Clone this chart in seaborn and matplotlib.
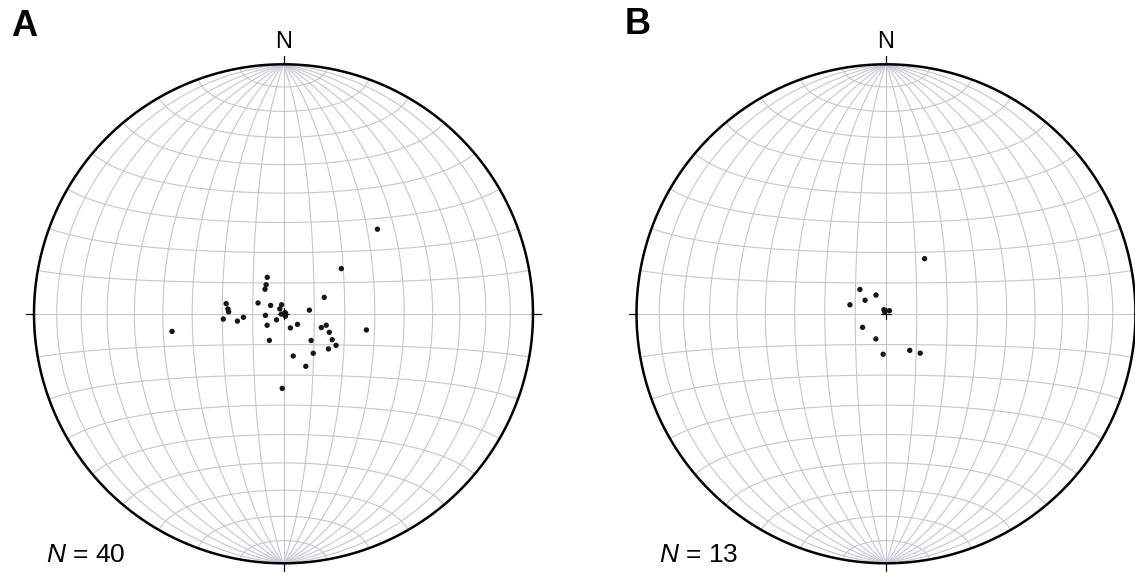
import numpy as np
import pandas as pd
import matplotlib
matplotlib.use("Agg")
import matplotlib.pyplot as plt
import seaborn as sns

# ---- data: lineation trend / plunge (degrees) ----
trend_a = [48, 52, 336, 329, 323, 68, 280, 293, 303, 348,
           323, 82, 275, 272, 265, 265, 261, 265, 261, 80,
           141, 229, 235, 127, 154, 110, 105, 112, 118, 121,
           128, 134, 143, 208, 167, 157, 181, 261, 101, 51]
plunge_a = [48, 66, 77, 79, 80, 75.7, 71, 81, 85, 87,
            88, 81.5, 71.8, 72.1, 76.9, 70.3, 74.8, 84.1, 89.3, 89.3,
            89, 87, 83.5, 84.3, 84.9, 76.9, 75.6, 73.9, 72, 70,
            71.4, 77.5, 73.9, 80.2, 75.9, 71.4, 65.6, 52.7, 62.3, 89.4]
trend_b = [35, 313, 332, 303, 284, 333, 48, 329, 240, 202, 184, 147, 139]
plunge_b = [68, 78.4, 83.1, 81.9, 77.9, 88.5, 88.5, 89.1, 81.2, 81.2, 76.8, 75.8, 73]
panel_labels = ["A", "B"]
n_labels = ["40", "13"]

sns.set_style("white")
plt.rcParams["font.family"] = ["Liberation Sans", "DejaVu Sans"]
plt.rcParams["text.color"] = "black"
plt.rcParams["mathtext.fontset"] = "custom"
plt.rcParams["mathtext.it"] = "Liberation Sans:italic"
plt.rcParams["mathtext.rm"] = "Liberation Sans"

W, H = 1135, 573
fig = plt.figure(figsize=(W / 100, H / 100), dpi=100)

R = 249.5
LIM = 1.1
GRID = "#c3c6d2"


def project(trend, plunge):
    t = np.radians(np.asarray(trend, float))
    p = np.radians(np.asarray(plunge, float))
    x = np.cos(p) * np.sin(t)
    y = np.cos(p) * np.cos(t)
    z = np.sin(p)
    return x / np.sqrt(1 + z), y / np.sqrt(1 + z)


def net(ax):
    phi = np.radians(np.linspace(-90, 90, 361))
    for lam_d in range(-80, 90, 10):
        lam = np.radians(lam_d)
        x = np.cos(phi) * np.sin(lam)
        y = np.sin(phi)
        z = np.cos(phi) * np.cos(lam)
        ax.plot(x / np.sqrt(1 + z), y / np.sqrt(1 + z), color=GRID, lw=0.8, zorder=1)
    lam = np.radians(np.linspace(-90, 90, 361))
    for phi_d in range(-80, 90, 10):
        ph = np.radians(phi_d)
        x = np.cos(ph) * np.sin(lam)
        y = np.sin(ph) * np.ones_like(lam)
        z = np.cos(ph) * np.cos(lam)
        ax.plot(x / np.sqrt(1 + z), y / np.sqrt(1 + z), color=GRID, lw=0.8, zorder=1)
    a = np.linspace(0, 2 * np.pi, 721)
    ax.plot(np.cos(a), np.sin(a), color="black", lw=1.8, zorder=3)
    t = 0.032
    for (x0, y0, x1, y1) in [(0, 1, 0, 1 + t), (0, -1, 0, -1 - t), (1, 0, 1 + t, 0), (-1, 0, -1 - t, 0)]:
        ax.plot([x0, x1], [y0, y1], color="black", lw=0.9, zorder=3)
    c = 0.022
    ax.plot([-c, c], [0, 0], color="black", lw=0.9, zorder=4)
    ax.plot([0, 0], [-c, c], color="black", lw=0.9, zorder=4)


centers = [(283.5, 313.8), (886.0, 313.8)]
datasets = [(trend_a, plunge_a), (trend_b, plunge_b)]
half = LIM * R
for i, ((cx, cy), (tr, pl)) in enumerate(zip(centers, datasets)):
    left = (cx - half) / W
    bottom = (H - cy - half) / H
    ax = fig.add_axes([left, bottom, 2 * half / W, 2 * half / H])
    net(ax)
    px, py = project(tr, pl)
    df = pd.DataFrame({"x": px, "y": py})
    sns.scatterplot(data=df, x="x", y="y", ax=ax, color="#161616", s=15,
                    edgecolor="none", legend=False, zorder=5)
    ax.set_xlim(-LIM, LIM)
    ax.set_ylim(-LIM, LIM)
    ax.set_axis_off()
    fig.text(cx / W, 1 - 48.5 / H, "N", ha="center", va="baseline", fontsize=17)

fig.text(11 / W, 1 - 36 / H, panel_labels[0], fontsize=26, fontweight="bold", va="baseline", ha="left")
fig.text(625 / W, 1 - 33.5 / H, panel_labels[1], fontsize=26, fontweight="bold", va="baseline", ha="left")
fig.text(46 / W, 1 - 562.5 / H, r"$N$ = " + n_labels[0], fontsize=19, va="baseline", ha="left")
fig.text(659 / W, 1 - 562.5 / H, r"$N$ = " + n_labels[1], fontsize=19, va="baseline", ha="left")

fig.savefig("out.png", dpi=100)
